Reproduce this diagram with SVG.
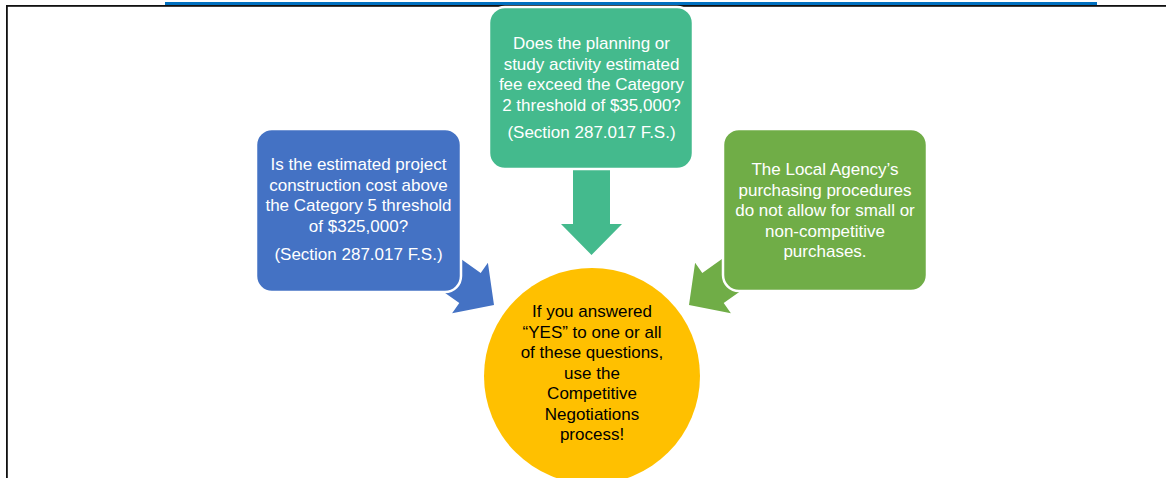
<svg xmlns="http://www.w3.org/2000/svg" width="1166" height="478" viewBox="0 0 1166 478">
<style>
.box{stroke:#fff;stroke-width:2.5}
.t{font-family:"Liberation Sans",Arial,sans-serif;font-size:17px;text-anchor:middle;fill:#fff}
.k{fill:#000}
</style>
<rect x="0" y="0" width="1166" height="478" fill="#fff"/>
<g id="frame">
<rect x="165" y="2" width="932" height="3" fill="#0070C0"/>
<rect x="6" y="5" width="1160" height="1.8" fill="#111"/>
<rect x="6" y="5" width="1.8" height="473" fill="#111"/>
</g>
<g id="connectors">
<polygon points="573,140 610,140 610,224 622,224 591.5,255 561,224 573,224" fill="#44BA8D"/>
<polygon points="439.9,244 480.7,272.9 487.9,262.7 494,305 452.1,313.3 459.3,303.1 418.5,274.2" fill="#4472C4"/>
<polygon points="743.1,244 702.3,272.9 695.1,262.7 689,305 730.9,313.3 723.7,303.1 764.5,274.2" fill="#70AD47"/>
</g>
<g id="node-planning">
<rect class="box" x="489" y="7" width="204" height="162" rx="16" fill="#44BA8D"/>
<text class="t" x="591.5" y="49">Does the planning or</text>
<text class="t" x="591.5" y="69.5">study activity estimated</text>
<text class="t" x="591.5" y="90">fee exceed the Category</text>
<text class="t" x="591.5" y="110.5">2 threshold of $35,000?</text>
<text class="t" x="591.5" y="138">(Section 287.017 F.S.)</text>
</g>
<g id="node-construction">
<rect class="box" x="256" y="129" width="205" height="163" rx="16" fill="#4472C4"/>
<text class="t" x="358.5" y="170">Is the estimated project</text>
<text class="t" x="358.5" y="190.5">construction cost above</text>
<text class="t" x="358.5" y="211">the Category 5 threshold</text>
<text class="t" x="358.5" y="231.5">of $325,000?</text>
<text class="t" x="358.5" y="259.5">(Section 287.017 F.S.)</text>
</g>
<g id="node-agency">
<rect class="box" x="723" y="129" width="204" height="162" rx="16" fill="#70AD47"/>
<text class="t" x="825" y="175">The Local Agency’s</text>
<text class="t" x="825" y="195.5">purchasing procedures</text>
<text class="t" x="825" y="216">do not allow for small or</text>
<text class="t" x="825" y="236.5">non-competitive</text>
<text class="t" x="825" y="257">purchases.</text>
</g>
<g id="node-result">
<circle cx="592" cy="376" r="108" fill="#FFC000"/>
<text class="t k" x="592" y="317">If you answered</text>
<text class="t k" x="592" y="337.5">“YES” to one or all</text>
<text class="t k" x="592" y="358">of these questions,</text>
<text class="t k" x="592" y="378.5">use the</text>
<text class="t k" x="592" y="399">Competitive</text>
<text class="t k" x="592" y="419.5">Negotiations</text>
<text class="t k" x="592" y="440">process!</text>
</g>
</svg>
